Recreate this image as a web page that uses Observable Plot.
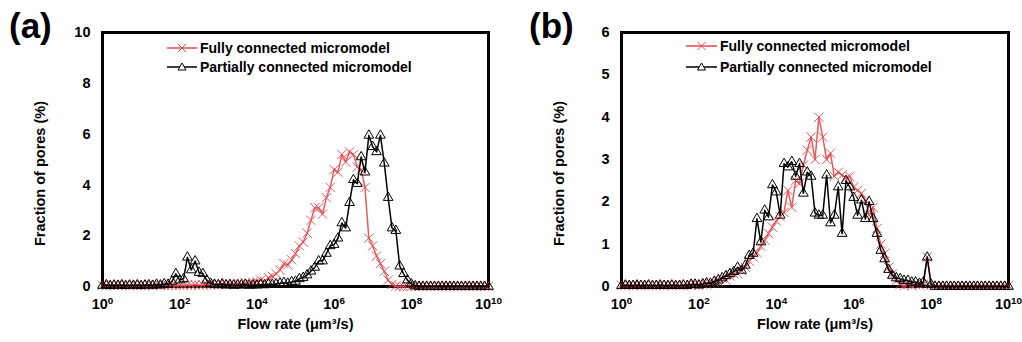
<!DOCTYPE html>
<html>
<head>
<meta charset="utf-8">
<script src="https://cdn.jsdelivr.net/npm/d3@7"></script>
<script src="https://cdn.jsdelivr.net/npm/@observablehq/plot@0.6"></script>
<style>
  html, body { margin: 0; padding: 0; background: #fff; }
  #wrap { position: relative; width: 1022px; height: 342px; overflow: hidden;
          font-family: "Liberation Sans", Arial, sans-serif; font-weight: bold; color: #000; }
  .panel { position: absolute; top: 0; }
  .tag { position: absolute; top: 8px; font-size: 35px; line-height: 1; }
  #legend { position: absolute; left: 0; top: 0; pointer-events: none; }
</style>
</head>
<body>
<div id="wrap">
  <div id="pa" class="panel" style="left:0px"></div>
  <div id="pb" class="panel" style="left:511px"></div>
  <div class="tag" style="left:9px">(a)</div>
  <div class="tag" style="left:529px">(b)</div>
  <svg id="legend" width="1022" height="342"></svg>
</div>
<script>
// ---- data ----
const seriesNames = ["Fully connected micromodel", "Partially connected micromodel"];
// flow-rate bins: log10 of flow rate (µm³/s)
const exponents = [
  0,0.1,0.2,0.3,0.4,0.5,0.6,0.7,0.8,0.9,
  1,1.1,1.2,1.3,1.4,1.5,1.6,1.7,1.8,1.9,
  2,2.1,2.2,2.3,2.4,2.5,2.6,2.7,2.8,2.9,
  3,3.1,3.2,3.3,3.4,3.5,3.6,3.7,3.8,3.9,
  4,4.1,4.2,4.3,4.4,4.5,4.6,4.7,4.8,4.9,
  5,5.1,5.2,5.3,5.4,5.5,5.6,5.7,5.8,5.9,
  6,6.1,6.2,6.3,6.4,6.5,6.6,6.7,6.8,6.9,
  7,7.1,7.2,7.3,7.4,7.5,7.6,7.7,7.8,7.9,
  8,8.1,8.2,8.3,8.4,8.5,8.6,8.7,8.8,8.9,
  9,9.1,9.2,9.3,9.4,9.5,9.6,9.7,9.8,9.9,
  10
];
// panel (a) fraction of pores (%)
const aFully = [
  0.05,0.03,0.06,0.04,0.05,0.03,0.06,0.04,0.05,0.03,
  0.06,0.04,0.05,0.03,0.06,0.04,0.05,0.03,0.06,0.04,
  0.05,0.04,0.06,0.05,0.07,0.05,0.06,0.08,0.06,0.07,
  0.08,0.1,0.07,0.12,0.1,0.13,0.1,0.15,0.12,0.16,
  0.2,0.25,0.2,0.35,0.4,0.5,0.65,0.9,0.85,1.05,
  1.3,1.6,1.75,2.1,2.6,3.1,3.1,2.85,3.5,3.9,
  4.6,4.5,5.2,4.9,5.3,5.2,4.7,4.6,3.9,1.9,
  1.6,1.2,0.9,0.6,0.25,0.08,0.02,0,0,0,
  0,0,0,0,0,0,0,0,0,0,
  0,0,0,0,0,0,0,0,0,0,
  0
];
const aPartial = [
  0.04,0.06,0.03,0.05,0.04,0.06,0.03,0.05,0.04,0.06,
  0.03,0.05,0.06,0.04,0.08,0.05,0.1,0.08,0.2,0.5,
  0.25,0.3,1.15,0.65,1.0,0.55,0.5,0.25,0.12,0.08,
  0.06,0.1,0.05,0.07,0.04,0.06,0.05,0.08,0.04,0.06,
  0.05,0.07,0.06,0.09,0.08,0.1,0.12,0.15,0.12,0.18,
  0.2,0.3,0.35,0.45,0.6,0.75,1.0,1.0,1.3,1.6,
  1.65,1.9,2.5,2.3,3.3,4.2,4.05,5.1,4.5,5.95,
  5.5,5.3,5.95,4.85,3.5,2.3,2.2,0.8,0.5,0.25,
  0.1,0.02,0,0,0,0,0,0,0,0,
  0,0,0,0,0,0,0,0,0,0,
  0
];
// panel (b) fraction of pores (%)
const bFully = [
  0.03,0.02,0.04,0.02,0.03,0.02,0.04,0.02,0.03,0.02,
  0.04,0.02,0.03,0.02,0.04,0.02,0.03,0.05,0.03,0.04,
  0.03,0.05,0.05,0.08,0.1,0.12,0.2,0.15,0.25,0.3,
  0.3,0.38,0.45,0.6,0.7,0.8,0.95,1.1,1.25,1.4,
  1.55,1.65,1.75,2.27,1.87,2.5,2.44,2.87,3.22,3.53,
  3.0,4.0,3.53,3.0,3.15,2.6,2.7,2.63,2.56,2.6,
  2.35,2.27,2.2,2.04,1.68,1.87,1.37,1.0,0.78,0.45,
  0.3,0.14,0.05,0.02,0.05,0.02,0.05,0.03,0.05,0.7,
  0.03,0.02,0.02,0.02,0.02,0.02,0.02,0.02,0.02,0.02,
  0.02,0.02,0.02,0.02,0.02,0.02,0.02,0.02,0.02,0.02,
  0.02
];
const bPartial = [
  0.02,0.03,0.02,0.02,0.03,0.02,0.02,0.03,0.02,0.02,
  0.03,0.02,0.02,0.03,0.02,0.02,0.03,0.02,0.05,0.05,
  0.03,0.06,0.08,0.07,0.12,0.15,0.2,0.25,0.3,0.35,
  0.45,0.38,0.5,0.73,0.78,1.6,1.05,1.8,1.64,2.4,
  2.23,1.68,2.9,2.82,2.95,2.6,2.9,2.2,2.7,2.6,
  1.73,1.68,1.68,2.63,1.5,1.68,2.35,1.25,2.5,2.35,
  2.1,1.68,2.04,1.6,2.0,1.6,1.25,0.85,0.65,0.4,
  0.26,0.2,0.18,0.14,0.14,0.1,0.1,0.07,0.1,0.69,
  0.05,0,0,0,0,0,0,0,0,0,
  0,0,0,0,0,0,0,0,0,0,
  0
];
const xTickExponents = [0, 2, 4, 6, 8, 10];
const aYTicks = [0, 2, 4, 6, 8, 10];
const bYTicks = [0, 1, 2, 3, 4, 5, 6];
const xLabel = "Flow rate (μm³/s)";
const yLabel = "Fraction of pores (%)";

// ---- drawing ----
const RED = "#e8474c";
const BLACK = "#000";
const FONT = "'Liberation Sans', Arial, sans-serif";

function rowsOf(values) {
  return exponents.map((e, i) => ({flow: Math.pow(10, e), frac: values[i]}));
}

function panel({fully, partial, yMax, yTicks, marginLeft, marginRight}) {
  const f = rowsOf(fully), p = rowsOf(partial);
  const svg = Plot.plot({
    width: 511, height: 342,
    marginLeft, marginRight, marginTop: 32, marginBottom: 56,
    style: {fontFamily: FONT, fontSize: "14.5px", fontWeight: "bold", color: "#000", background: "transparent", overflow: "visible"},
    x: {type: "log", domain: [1, 1e10]},
    y: {domain: [0, yMax]},
    marks: [
      Plot.frame({stroke: BLACK, strokeWidth: 3}),
      Plot.axisY({ticks: yTicks, tickSize: 0, tickPadding: 12, label: null, tickFormat: d => String(d)}),
      Plot.axisX({ticks: xTickExponents.map(e => Math.pow(10, e)), tickSize: 0, tickPadding: 12, label: null,
        tickFormat: d => "10^" + Math.round(Math.log10(d))}),
      Plot.line(f, {x: "flow", y: "frac", stroke: RED, strokeWidth: 1.5, strokeOpacity: 0.9}),
      Plot.dot(f, {x: "flow", y: "frac", symbol: "times", r: 4.3, stroke: RED, strokeWidth: 1, strokeOpacity: 0.9}),
      Plot.line(p, {x: "flow", y: "frac", stroke: BLACK, strokeWidth: 1.5}),
      Plot.dot(p, {x: "flow", y: "frac", symbol: "triangle", r: 3.6, stroke: BLACK, fill: "none", strokeWidth: 1}),
      Plot.text([yLabel], {frameAnchor: "left", textAnchor: "middle", rotate: -90, dx: -62, dy: 14, fontSize: 14.5, fontWeight: "bold"}),
      Plot.text([xLabel], {frameAnchor: "bottom", textAnchor: "middle", dy: 42, fontSize: 14.5, fontWeight: "bold"})
    ]
  });
  // superscript exponents on x tick labels
  d3.select(svg).selectAll('g[aria-label="x-axis tick label"] text').each(function() {
    const m = (this.textContent || "").match(/^10\^(\d+)$/);
    if (!m) return;
    const s = d3.select(this);
    s.text(null);
    s.append("tspan").text("10");
    s.append("tspan").attr("dy", "-0.45em").attr("font-size", "0.68em").text(m[1]);
  });
  return svg;
}

document.getElementById("pa").appendChild(panel({fully: aFully, partial: aPartial, yMax: 10, yTicks: aYTicks, marginLeft: 102, marginRight: 23}));
document.getElementById("pb").appendChild(panel({fully: bFully, partial: bPartial, yMax: 6, yTicks: bYTicks, marginLeft: 110, marginRight: 14}));

// legends inside each panel
const lg = d3.select("#legend");
function legend(x0, x1, yTop, yBot) {
  const xm = (x0 + x1) / 2;
  const rows = [{y: yTop, c: RED, name: seriesNames[0], sym: "x"}, {y: yBot, c: BLACK, name: seriesNames[1], sym: "t"}];
  rows.forEach(r => {
    lg.append("line").attr("x1", x0).attr("x2", x1).attr("y1", r.y).attr("y2", r.y)
      .attr("stroke", r.c).attr("stroke-width", 1.5);
    if (r.sym === "x") {
      lg.append("path").attr("d", `M${xm-4},${r.y-4}L${xm+4},${r.y+4}M${xm-4},${r.y+4}L${xm+4},${r.y-4}`)
        .attr("stroke", r.c).attr("stroke-width", 1).attr("fill", "none");
    } else {
      lg.append("path").attr("d", `M${xm},${r.y-4}L${xm+4},${r.y+3}L${xm-4},${r.y+3}Z`)
        .attr("stroke", r.c).attr("stroke-width", 1).attr("fill", "white");
    }
    lg.append("text").attr("x", x1 + 3).attr("y", r.y + 5).text(r.name)
      .attr("font-family", FONT).attr("font-size", 14).attr("font-weight", "bold").attr("fill", "#000");
  });
}
legend(167, 197, 48, 67);
legend(686, 717, 46, 67);
</script>
</body>
</html>
